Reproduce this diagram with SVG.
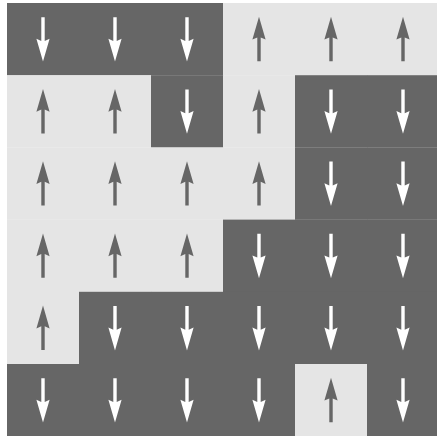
<svg xmlns="http://www.w3.org/2000/svg" xmlns:xlink="http://www.w3.org/1999/xlink" width="437" height="436" viewBox="0 0 437 436">
<style>
.bg{fill:#ffffff}
.dn rect{fill:#666666}
.up rect{fill:#e5e5e5}
.dn use{fill:#ffffff}
.up use{fill:#666666}
</style>
<defs>
<path id="a" d="M0,-22.4 L6.6,0.4 L1.7,-1.8 L1.7,22 L-1.7,22 L-1.7,-1.8 L-6.6,0.4 Z"/>
</defs>
<rect class="bg" x="0" y="0" width="437" height="436"/>
<g id="grid">
<g id="c00" class="dn" transform="translate(7,3)"><rect width="72.2" height="72.4"/><use xlink:href="#a" transform="translate(36,36.2) rotate(180)"/></g>
<g id="c01" class="dn" transform="translate(79,3)"><rect width="72.2" height="72.4"/><use xlink:href="#a" transform="translate(36,36.2) rotate(180)"/></g>
<g id="c02" class="dn" transform="translate(151,3)"><rect width="72.2" height="72.4"/><use xlink:href="#a" transform="translate(36,36.2) rotate(180)"/></g>
<g id="c03" class="up" transform="translate(223,3)"><rect width="72.2" height="72.4"/><use xlink:href="#a" transform="translate(36,36.2)"/></g>
<g id="c04" class="up" transform="translate(295,3)"><rect width="72.2" height="72.4"/><use xlink:href="#a" transform="translate(36,36.2)"/></g>
<g id="c05" class="up" transform="translate(367,3)"><rect width="72.2" height="72.4"/><use xlink:href="#a" transform="translate(36,36.2)"/></g>

<g id="c10" class="up" transform="translate(7,75.2)"><rect width="72.2" height="72.4"/><use xlink:href="#a" transform="translate(36,36.2)"/></g>
<g id="c11" class="up" transform="translate(79,75.2)"><rect width="72.2" height="72.4"/><use xlink:href="#a" transform="translate(36,36.2)"/></g>
<g id="c12" class="dn" transform="translate(151,75.2)"><rect width="72.2" height="72.4"/><use xlink:href="#a" transform="translate(36,36.2) rotate(180)"/></g>
<g id="c13" class="up" transform="translate(223,75.2)"><rect width="72.2" height="72.4"/><use xlink:href="#a" transform="translate(36,36.2)"/></g>
<g id="c14" class="dn" transform="translate(295,75.2)"><rect width="72.2" height="72.4"/><use xlink:href="#a" transform="translate(36,36.2) rotate(180)"/></g>
<g id="c15" class="dn" transform="translate(367,75.2)"><rect width="72.2" height="72.4"/><use xlink:href="#a" transform="translate(36,36.2) rotate(180)"/></g>

<g id="c20" class="up" transform="translate(7,147.4)"><rect width="72.2" height="72.4"/><use xlink:href="#a" transform="translate(36,36.2)"/></g>
<g id="c21" class="up" transform="translate(79,147.4)"><rect width="72.2" height="72.4"/><use xlink:href="#a" transform="translate(36,36.2)"/></g>
<g id="c22" class="up" transform="translate(151,147.4)"><rect width="72.2" height="72.4"/><use xlink:href="#a" transform="translate(36,36.2)"/></g>
<g id="c23" class="up" transform="translate(223,147.4)"><rect width="72.2" height="72.4"/><use xlink:href="#a" transform="translate(36,36.2)"/></g>
<g id="c24" class="dn" transform="translate(295,147.4)"><rect width="72.2" height="72.4"/><use xlink:href="#a" transform="translate(36,36.2) rotate(180)"/></g>
<g id="c25" class="dn" transform="translate(367,147.4)"><rect width="72.2" height="72.4"/><use xlink:href="#a" transform="translate(36,36.2) rotate(180)"/></g>

<g id="c30" class="up" transform="translate(7,219.6)"><rect width="72.2" height="72.4"/><use xlink:href="#a" transform="translate(36,36.2)"/></g>
<g id="c31" class="up" transform="translate(79,219.6)"><rect width="72.2" height="72.4"/><use xlink:href="#a" transform="translate(36,36.2)"/></g>
<g id="c32" class="up" transform="translate(151,219.6)"><rect width="72.2" height="72.4"/><use xlink:href="#a" transform="translate(36,36.2)"/></g>
<g id="c33" class="dn" transform="translate(223,219.6)"><rect width="72.2" height="72.4"/><use xlink:href="#a" transform="translate(36,36.2) rotate(180)"/></g>
<g id="c34" class="dn" transform="translate(295,219.6)"><rect width="72.2" height="72.4"/><use xlink:href="#a" transform="translate(36,36.2) rotate(180)"/></g>
<g id="c35" class="dn" transform="translate(367,219.6)"><rect width="72.2" height="72.4"/><use xlink:href="#a" transform="translate(36,36.2) rotate(180)"/></g>

<g id="c40" class="up" transform="translate(7,291.8)"><rect width="72.2" height="72.4"/><use xlink:href="#a" transform="translate(36,36.2)"/></g>
<g id="c41" class="dn" transform="translate(79,291.8)"><rect width="72.2" height="72.4"/><use xlink:href="#a" transform="translate(36,36.2) rotate(180)"/></g>
<g id="c42" class="dn" transform="translate(151,291.8)"><rect width="72.2" height="72.4"/><use xlink:href="#a" transform="translate(36,36.2) rotate(180)"/></g>
<g id="c43" class="dn" transform="translate(223,291.8)"><rect width="72.2" height="72.4"/><use xlink:href="#a" transform="translate(36,36.2) rotate(180)"/></g>
<g id="c44" class="dn" transform="translate(295,291.8)"><rect width="72.2" height="72.4"/><use xlink:href="#a" transform="translate(36,36.2) rotate(180)"/></g>
<g id="c45" class="dn" transform="translate(367,291.8)"><rect width="72.2" height="72.4"/><use xlink:href="#a" transform="translate(36,36.2) rotate(180)"/></g>

<g id="c50" class="dn" transform="translate(7,364)"><rect width="72.2" height="72.4"/><use xlink:href="#a" transform="translate(36,36.2) rotate(180)"/></g>
<g id="c51" class="dn" transform="translate(79,364)"><rect width="72.2" height="72.4"/><use xlink:href="#a" transform="translate(36,36.2) rotate(180)"/></g>
<g id="c52" class="dn" transform="translate(151,364)"><rect width="72.2" height="72.4"/><use xlink:href="#a" transform="translate(36,36.2) rotate(180)"/></g>
<g id="c53" class="dn" transform="translate(223,364)"><rect width="72.2" height="72.4"/><use xlink:href="#a" transform="translate(36,36.2) rotate(180)"/></g>
<g id="c54" class="up" transform="translate(295,364)"><rect width="72.2" height="72.4"/><use xlink:href="#a" transform="translate(36,36.2)"/></g>
<g id="c55" class="dn" transform="translate(367,364)"><rect width="72.2" height="72.4"/><use xlink:href="#a" transform="translate(36,36.2) rotate(180)"/></g>
</g>
<g id="connectors"/>
</svg>
